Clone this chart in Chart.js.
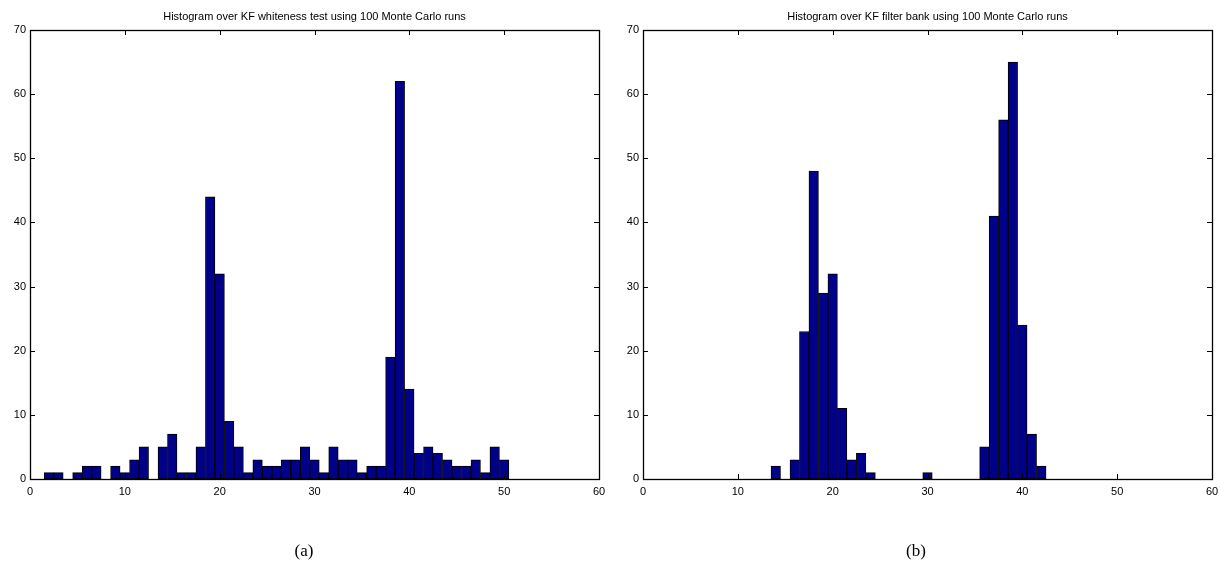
<!DOCTYPE html>
<html>
<head>
<meta charset="utf-8">
<script src="https://cdn.jsdelivr.net/npm/chart.js@4.4.1/dist/chart.umd.min.js"></script>
<style>
  body { margin: 0; background: #fff; }
  #wrap { position: relative; width: 1220px; height: 563px; }
  canvas { position: absolute; top: 0; }
  .sub { position: absolute; top: 541px; font: 17px "Liberation Serif", serif; color: #000; transform: translateX(-50%); }
</style>
</head>
<body>
<div id="wrap">
  <canvas id="chartA" width="610" height="563" style="left:0"></canvas>
  <canvas id="chartB" width="610" height="563" style="left:610px"></canvas>
  <div class="sub" style="left:304px">(a)</div>
  <div class="sub" style="left:916px">(b)</div>
</div>
<script>
// histogram bin centres
const bins = [2, 3, 4, 5, 6, 7, 8, 9, 10, 11, 12, 13, 14, 15, 16, 17, 18, 19, 20, 21, 22, 23, 24, 25, 26,
  27, 28, 29, 30, 31, 32, 33, 34, 35, 36, 37, 38, 39, 40, 41, 42, 43, 44, 45, 46, 47, 48, 49, 50];

// counts per bin, KF whiteness test
const whitenessCounts = [1, 1, 0, 1, 2, 2, 0, 2, 1, 3, 5, 0, 5, 7, 1, 1, 5, 44, 32, 9, 5, 1, 3, 2, 2,
  3, 3, 5, 3, 1, 5, 3, 3, 1, 2, 2, 19, 62, 14, 4, 5, 4, 3, 2, 2, 3, 1, 5, 3];

// counts per bin, KF filter bank
const filterBankCounts = [0, 0, 0, 0, 0, 0, 0, 0, 0, 0, 0, 0, 2, 0, 3, 23, 48, 29, 32, 11, 3, 4, 1, 0, 0,
  0, 0, 0, 1, 0, 0, 0, 0, 0, 5, 41, 56, 65, 24, 7, 2, 0, 0, 0, 0, 0, 0, 0, 0];

const xTicks = [0, 10, 20, 30, 40, 50, 60];
const yTicks = [0, 10, 20, 30, 40, 50, 60, 70];

const titles = {
  chartA: 'Histogram over KF whiteness test using 100 Monte Carlo runs',
  chartB: 'Histogram over KF filter bank using 100 Monte Carlo runs'
};

const tickFont = { family: '"Liberation Sans", Arial, sans-serif', size: 11 };

// matlab style box: frame, inward ticks and the title above
const matlabBox = {
  id: 'matlabBox',
  afterDraw(chart) {
    const { ctx, chartArea: a, scales } = chart;
    const len = 5;
    ctx.save();
    ctx.strokeStyle = '#000';
    ctx.lineWidth = 1;
    ctx.beginPath();
    xTicks.forEach(v => {
      const px = Math.round(scales.x.getPixelForValue(v)) + 0.5;
      ctx.moveTo(px, a.bottom); ctx.lineTo(px, a.bottom - len);
      ctx.moveTo(px, a.top); ctx.lineTo(px, a.top + len);
    });
    yTicks.forEach(v => {
      const py = Math.round(scales.y.getPixelForValue(v)) + 0.5;
      ctx.moveTo(a.left, py); ctx.lineTo(a.left + len, py);
      ctx.moveTo(a.right, py); ctx.lineTo(a.right - len, py);
    });
    ctx.stroke();
    ctx.lineWidth = 1.3;
    ctx.strokeRect(Math.round(a.left) + 0.5, Math.round(a.top) + 0.5,
      Math.round(a.right - a.left), Math.round(a.bottom - a.top));
    ctx.fillStyle = '#000';
    ctx.font = '11px "Liberation Sans", Arial, sans-serif';
    ctx.textAlign = 'center';
    ctx.textBaseline = 'alphabetic';
    ctx.fillText(titles[chart.canvas.id], (a.left + a.right) / 2, a.top - 10);
    ctx.restore();
  }
};

function makeHistogram(id, counts, yAxisWidth, padRight) {
  return new Chart(document.getElementById(id), {
    type: 'bar',
    data: {
      datasets: [{
        data: bins.map((b, i) => ({ x: b, y: counts[i] })),
        backgroundColor: '#000088',
        borderColor: '#000',
        borderWidth: 1,
        borderSkipped: false,
        barPercentage: 1,
        categoryPercentage: 1
      }]
    },
    options: {
      responsive: false,
      animation: false,
      layout: { padding: { top: 30, right: padRight, left: 0, bottom: 0 } },
      plugins: { legend: { display: false }, tooltip: { enabled: false } },
      scales: {
        x: {
          type: 'linear',
          min: 0,
          max: 60,
          offset: false,
          grid: { display: false, drawTicks: false },
          border: { display: false },
          ticks: { stepSize: 10, color: '#000', font: tickFont, padding: 6, maxRotation: 0 },
          afterFit: s => { s.height = 84; s.paddingLeft = 0; s.paddingRight = 0; }
        },
        y: {
          min: 0,
          max: 70,
          grid: { display: false, drawTicks: false },
          border: { display: false },
          ticks: { stepSize: 10, color: '#000', font: tickFont, padding: 4 },
          afterFit: s => { s.width = yAxisWidth; s.paddingTop = 0; s.paddingBottom = 0; }
        }
      }
    },
    plugins: [matlabBox]
  });
}

makeHistogram('chartA', whitenessCounts, 30, 11);
makeHistogram('chartB', filterBankCounts, 33, 8);
</script>
</body>
</html>
